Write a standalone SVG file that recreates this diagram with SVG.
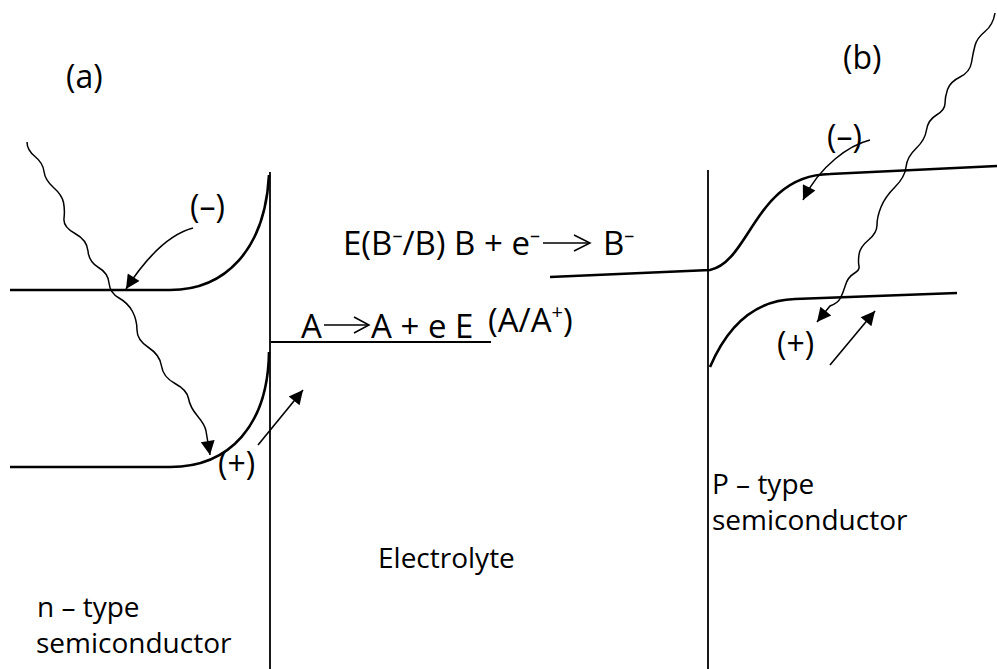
<svg xmlns="http://www.w3.org/2000/svg" width="997" height="669" viewBox="0 0 997 669">
<style>
text{font-family:"Open Sans","Liberation Sans",sans-serif;font-size:28px;fill:#000}
.lbl{font-size:32px}
.eq{font-size:33px}
.sup{font-size:20px}
.band{fill:none;stroke:#000;stroke-width:2.6}
.axis{fill:none;stroke:#000;stroke-width:1.8}
.wave{fill:none;stroke:#000;stroke-width:1.5;marker-end:url(#ah)}
.arr{fill:none;stroke:#000;stroke-width:1.6;marker-end:url(#ah)}
.chev{fill:none;stroke:#000;stroke-width:1.5}
</style>
<defs>
<marker id="ah" viewBox="0 0 10 10" refX="10" refY="5" markerUnits="userSpaceOnUse" markerWidth="17" markerHeight="14" orient="auto"><path d="M0,0 L10,5 L0,10 z" fill="#000"/></marker>
</defs>
<rect width="997" height="669" fill="#fff"/>

<g id="structure">
<line class="axis" x1="270" y1="172" x2="270" y2="669"/>
<line class="axis" x1="708" y1="170" x2="708" y2="669"/>
<line class="axis" x1="271" y1="342" x2="491" y2="342"/>
</g>

<g id="n-bands">
<path class="band" d="M10,290 L170,290 C225,290 265,250 269,175"/>
<path class="band" d="M10,467 L170,467 C230,467 268,425 269,352"/>
</g>

<g id="p-bands">
<path class="band" d="M550,277 L710,270 C750,262 755,175 830,174 L997,166"/>
<path class="band" d="M710,367 C730,320 760,300 795,299 L957,293"/>
</g>

<g id="connectors">
<path class="wave" d="M27,142 Q27,150 35,156.5 Q43,163 44,171.5 Q45,180 53.5,187.5 Q62,195 63.5,202.5 Q65,210 64,218.5 Q63,227 75,233.5 Q87,240 88,251 Q89,262 98.5,267.5 Q108,273 109,283 Q110,293 119,298 Q128,303 132.5,311.5 Q137,320 137,330 Q137,340 148.5,347.5 Q160,355 161.5,366 Q163,377 175,383.5 Q187,390 188.5,398.5 Q190,407 197.5,416 Q205,425 206,431 L210,455"/>
<path class="wave" d="M995,13 Q993,25 985,31.5 Q977,38 975,45.5 Q973,53 971.5,62.5 Q970,72 960,77 Q950,82 947.5,89.5 Q945,97 945,103.5 Q945,110 936.5,115 Q928,120 926.5,130 Q925,140 916,148.5 Q907,157 906,167 Q905,177 895,187 Q885,197 881,207 Q877,217 877,225 Q877,233 868.5,240 Q860,247 859,254.5 Q858,262 859,266 Q860,270 854,273.5 Q848,277 845.5,285 Q843,293 840.5,298 Q838,303 830,306 L817,322"/>
<path class="arr" d="M193,228 C170,234 148,255 126,289"/>
<path class="arr" d="M870,140 C850,145 820,165 803,200"/>
<path class="arr" d="M258,445 L303,390"/>
<path class="arr" d="M830,365 L875,311"/>
<line class="chev" x1="543" y1="243" x2="590" y2="243"/>
<polyline class="chev" points="574,235 590,243 574,251"/>
<line class="chev" x1="324" y1="325" x2="369" y2="325"/>
<polyline class="chev" points="354,317 369,325 354,333"/>
</g>

<g id="labels">
<text class="lbl" x="66" y="88">(a)</text>
<text class="lbl" x="843" y="69">(b)</text>
<text class="lbl" x="190" y="218">(–)</text>
<text class="lbl" x="218" y="475">(+)</text>
<text class="lbl" x="827" y="148">(–)</text>
<text class="lbl" x="777" y="355">(+)</text>
<text class="eq" x="343" y="255">E(B<tspan class="sup" dy="-13">–</tspan><tspan dy="13">/B) B + e</tspan><tspan class="sup" dy="-13">–</tspan></text>
<text class="eq" x="603" y="255">B<tspan class="sup" dy="-13">–</tspan></text>
<text class="eq" x="301" y="338">A</text>
<text class="eq" x="371" y="338">A + e E</text>
<text class="eq" x="488" y="332">(A/A<tspan class="sup" dy="-13">+</tspan><tspan dy="13">)</tspan></text>
<text x="378" y="568">Electrolyte</text>
<text x="37" y="617">n – type</text>
<text x="36" y="653">semiconductor</text>
<text x="712" y="494">P – type</text>
<text x="712" y="530">semiconductor</text>
</g>
</svg>
